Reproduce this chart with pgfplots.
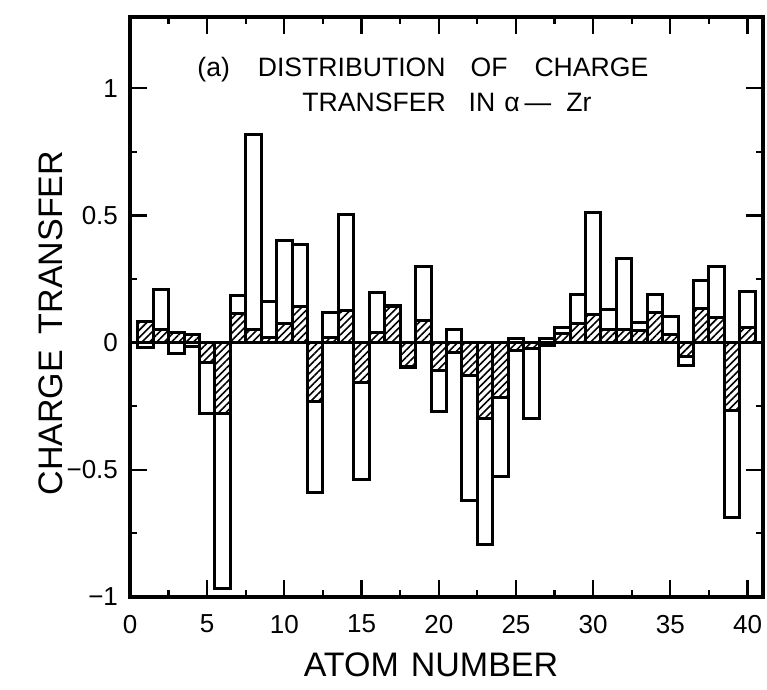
\documentclass[border=0pt]{standalone}
\usepackage{fontspec}
\setmainfont{Liberation Sans}
\usepackage{pgfplots}
\usepackage{pgfplotstable}
\pgfplotsset{compat=1.18}
\usetikzlibrary{patterns.meta}

\pgfplotstableread{
n open hatch
1 -0.020 0.084
2 0.210 0.052
3 -0.043 0.039
4 -0.015 0.032
5 -0.280 -0.080
6 -0.965 -0.280
7 0.187 0.116
8 0.820 0.052
9 0.160 0.020
10 0.400 0.075
11 0.384 0.142
12 -0.590 -0.230
13 0.118 0.020
14 0.505 0.125
15 -0.540 -0.157
16 0.196 0.040
17 0.140 0.145
18 -0.095 -0.097
19 0.300 0.087
20 -0.270 -0.110
21 0.050 -0.040
22 -0.620 -0.130
23 -0.795 -0.300
24 -0.528 -0.217
25 0.015 -0.030
26 -0.300 -0.025
27 0.017 -0.013
28 0.058 0.035
29 0.188 0.075
30 0.510 0.110
31 0.130 0.050
32 0.330 0.050
33 0.080 0.046
34 0.190 0.120
35 0.104 0.030
36 -0.090 -0.053
37 0.243 0.134
38 0.300 0.097
39 -0.687 -0.267
40 0.200 0.060
}\chargedata

\begin{document}
\begin{tikzpicture}
\useasboundingbox (-65pt,-46.5pt) rectangle (318.5pt,298.5pt);
\begin{axis}[
  scale only axis, width=316.5pt, height=290pt,
  xmin=0, xmax=41, ymin=-1, ymax=1.28,
  axis line style={line width=1.7pt},
  tick align=inside,
  major tick length=8.5pt, minor tick length=3.5pt,
  every tick/.style={line width=1.1pt, black},
  xtick={0,5,10,15,20,25,30,35,40},
  xticklabels={0,5,10,15,20,25,30,35,40},
  minor xtick={2.5,7.5,12.5,17.5,22.5,27.5,32.5,37.5},
  ytick={-1,-0.5,0,0.5,1},
  yticklabels={−1,−0.5,0,0.5,1},
  minor ytick={-0.75,-0.25,0.25,0.75},
  ticklabel style={font=\fontsize{13}{15}\selectfont},
  xticklabel style={yshift=-5.5pt},
  yticklabel style={xshift=-2.5pt},
]
\addplot[ybar, bar width=1, bar shift=0pt, draw=black, fill=white, line width=1.5pt]
  table[x=n, y=open] {\chargedata};
\addplot[ybar, bar width=1, bar shift=0pt, draw=black, line width=1.5pt,
  pattern={Lines[angle=45,distance=2.6pt,line width=0.8pt]}]
  table[x=n, y=hatch] {\chargedata};
\addplot[sharp plot, black, line width=1.3pt] coordinates {(0,0) (41,0)};
\end{axis}
\node[font=\fontsize{17}{20}\selectfont, rotate=90] at (-39.5pt,136.9pt) {CHARGE\hspace{8pt}TRANSFER};
\node[font=\fontsize{17}{20}\selectfont] at (150.5pt,-34pt) {ATOM\hspace{6pt}NUMBER};
\node[font=\fontsize{13.3}{15}\selectfont, anchor=base west, inner sep=0pt] at (33.5pt,260pt)
  {(a)\hspace{14pt}DISTRIBUTION\hspace{12.5pt}OF\hspace{13.5pt}CHARGE};
\node[font=\fontsize{13.3}{15}\selectfont, anchor=base west, inner sep=0pt] at (86pt,242.5pt)
  {TRANSFER\hspace{11.5pt}IN\hspace{4.5pt}α\hspace{2.5pt}—\hspace{7.5pt}Zr};
\end{tikzpicture}
\end{document}
